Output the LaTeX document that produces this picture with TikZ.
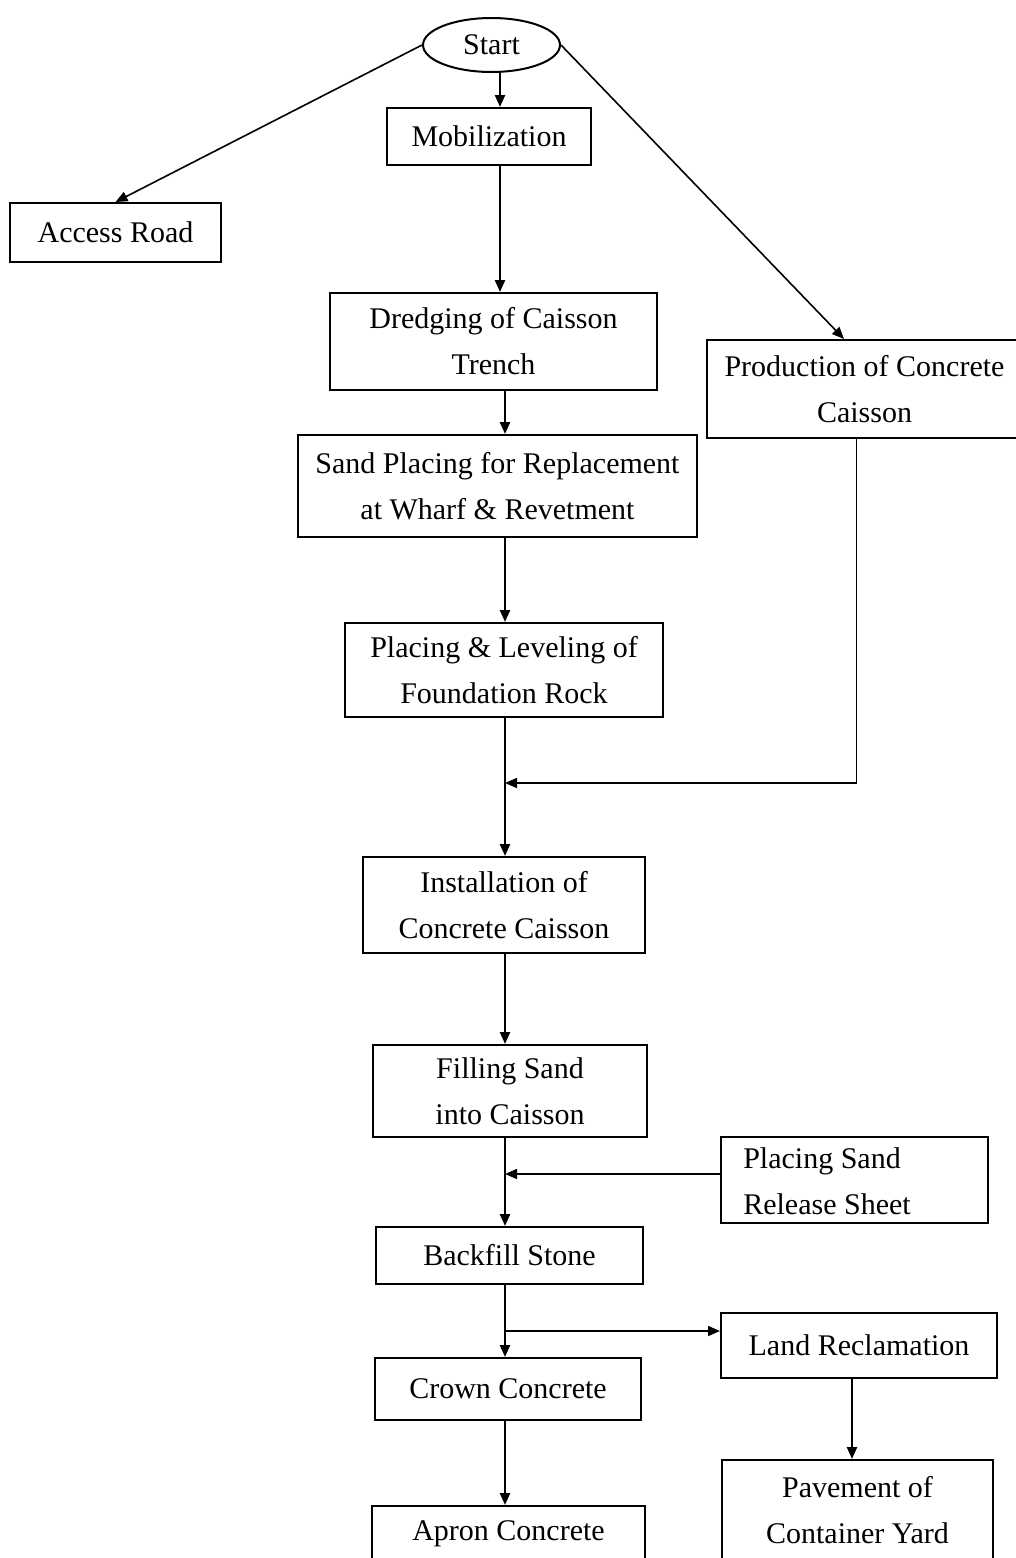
\documentclass[tikz,border=0pt]{standalone}
\usepackage{fontspec}
\setmainfont{Liberation Serif}
\usetikzlibrary{shapes.geometric,arrows.meta,calc}
\begin{document}
\begin{tikzpicture}[x=1pt,y=-1pt,
  box/.style={draw,line width=2pt,rectangle,inner sep=0pt,align=center,
    font=\fontsize{30}{46}\selectfont},
  arr/.style={line width=2.4pt,-{Triangle[length=12pt,width=10pt]}},
  side/.style={line width=1.6pt,-{Triangle[length=12pt,width=10pt]}}]
\clip (0,0) rectangle (1016,1558);
\fill[white] (0,0) rectangle (1016,1558);
% nodes
\node[draw,ellipse,line width=2pt,inner sep=0pt,minimum width=137pt,minimum height=54pt,
  font=\fontsize{30}{46}\selectfont] (start) at (491.5,45) {Start};
\node[box,minimum width=204pt,minimum height=57pt] (mob) at (489,136.5) {Mobilization};
\node[box,minimum width=211pt,minimum height=59pt] (access) at (115.5,232.5) {Access Road};
\node[box,minimum width=327pt,minimum height=97pt] (dredge) at (493.5,341.5) {Dredging of Caisson\\Trench};
\node[box,minimum width=315pt,minimum height=98pt] (prod) at (864.5,389) {Production of Concrete\\Caisson};
\node[box,minimum width=399pt,minimum height=102pt] (sand) at (497.5,486) {Sand Placing for Replacement\\at Wharf \& Revetment};
\node[box,minimum width=318pt,minimum height=94pt] (place) at (504,670) {Placing \& Leveling of\\Foundation Rock};
\node[box,minimum width=282pt,minimum height=96pt] (install) at (504,905) {Installation of\\Concrete Caisson};
\node[box,minimum width=274pt,minimum height=92pt] (fill) at (510,1091) {Filling Sand\\into Caisson};
\node[box,minimum width=267pt,minimum height=86pt] (release) at (854.5,1180)
  {\smash{\raisebox{-8.5pt}{\begin{tabular}{@{}l@{}}Placing Sand\\Release Sheet\end{tabular}}}\hspace*{55pt}};
\node[box,minimum width=267pt,minimum height=57pt] (backfill) at (509.5,1255.5) {Backfill Stone};
\node[box,minimum width=276pt,minimum height=65pt] (land) at (859,1345) {Land Reclamation};
\node[box,minimum width=266pt,minimum height=62pt] (crown) at (508,1389) {Crown Concrete};
\node[box,minimum width=273pt,minimum height=56pt] (apron) at (508.5,1534) {Apron Concrete};
\node[box,minimum width=271pt,minimum height=100pt] (pave) at (857.5,1510) {Pavement of\\Container Yard};
% helper coordinates
\coordinate (colA) at (500,0);
\coordinate (colB) at (505,0);
\coordinate (colC) at (852,0);
\coordinate (j1) at (505,783);
\coordinate (j2) at (505,1174);
\coordinate (j3) at (505,1331);
% connectors
\draw[arr] (start.south -| colA) -- (mob.north -| colA);
\draw[side] (start.west) -- (access.north);
\draw[side] (start.east) -- ($(prod.north west)+(138,0)$);
\draw[arr] (mob.south -| colA) -- (dredge.north -| colA);
\draw[arr] (dredge.south -| colB) -- (sand.north -| colB);
\draw[arr] (sand.south -| colB) -- (place.north -| colB);
\draw[arr] (place.south -| colB) -- (install.north -| colB);
\draw[side] ($(prod.south)+(-8,0)$) |- (j1);
\draw[arr] (install.south -| colB) -- (fill.north -| colB);
\draw[arr] (fill.south -| colB) -- (backfill.north -| colB);
\draw[side] (release.west |- j2) -- (j2);
\draw[arr] (backfill.south -| colB) -- (crown.north -| colB);
\draw[side] (j3) -- (j3 -| land.west);
\draw[arr] (crown.south -| colB) -- (apron.north -| colB);
\draw[arr] (land.south -| colC) -- (pave.north -| colC);
\end{tikzpicture}
\end{document}
